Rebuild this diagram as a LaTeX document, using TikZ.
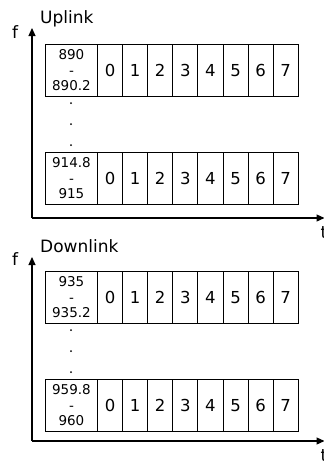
\documentclass[tikz,border=0pt]{standalone}
\usepackage{fontspec}
\setmainfont{DejaVu Sans}
\usetikzlibrary{arrows.meta}
\begin{document}
\begin{tikzpicture}[x=1pt,y=-1pt,
  cell/.style={draw,line width=0.9pt,minimum width=25.1pt,minimum height=52pt,inner sep=0pt,
    font=\fontsize{16.5}{18}\selectfont,anchor=north west},
  lab/.style={draw,line width=0.9pt,minimum width=52pt,minimum height=52pt,inner sep=0pt,
    align=center,font=\fontsize{13.5}{15.5}\selectfont,anchor=north west},
  axis/.style={line width=1.2pt,-{Triangle[length=8pt,width=7pt]}},
  dotmark/.style={fill=black,circle,inner sep=0pt,minimum size=2pt},
  big/.style={font=\fontsize{17}{19}\selectfont,inner sep=0pt}]
\useasboundingbox (0,0) rectangle (324,461);
\foreach \p/\oy/\ax/\tip/\ttl/\la/\lb/\lc/\ld in
  {u/0/218/28/Uplink/890/890.2/914.8/915, d/227/441/257/Downlink/935/935.2/959.8/960} {
  \coordinate (\p o) at (32,\ax);
  \coordinate (\p y) at (32,\tip);
  \coordinate (\p x) at (324.5,\ax);
  \draw[axis] (\p o) -- (\p y);
  \draw[axis] (\p o) -- (\p x);
  \node[big] (\p f) at (15,{\oy+32}) {f};
  \node[big,anchor=west] (\p title) at (40,{\oy+19}) {\ttl};
  \node[lab] (\p L1) at (45,{44+\oy}) {\la\\-\\\lb};
  \node[lab] (\p L2) at (45,{152+\oy}) {\lc\\-\\\ld};
  \foreach \i in {0,...,7} {
    \node[cell] (\p a\i) at ({97+25.1*\i},{44+\oy}) {\i};
    \node[cell] (\p b\i) at ({97+25.1*\i},{152+\oy}) {\i};
  }
  \node[dotmark] (\p d1) at (71,{103+\oy}) {};
  \node[dotmark] (\p d2) at (71,{124+\oy}) {};
  \node[dotmark] (\p d3) at (71,{145+\oy}) {};
  \node[big] (\p t) at (324,{\ax+15}) {t};
}
\end{tikzpicture}
\end{document}
